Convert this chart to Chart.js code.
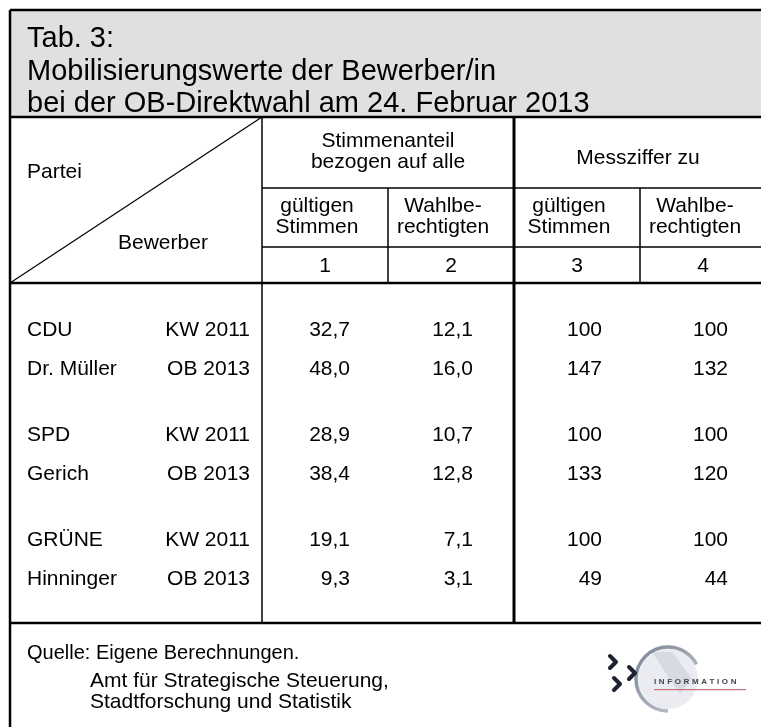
<!DOCTYPE html>
<html>
<head>
<meta charset="utf-8">
<script src="https://cdn.jsdelivr.net/npm/chart.js@4"></script>
<style>
    html, body { margin: 0; padding: 0; background: #fff; overflow: hidden; }
    #wrap { width: 766px; height: 727px; }
</style>
</head>
<body>
<div id="wrap"><canvas id="tab3" width="766" height="727"></canvas></div>
<script>
// Tab. 3 - Mobilisierungswerte der Bewerber/in
var titleLines = ['Tab. 3:', 'Mobilisierungswerte der Bewerber/in', 'bei der OB-Direktwahl am 24. Februar 2013'];
var parteien = ['CDU', 'Dr. Müller', 'SPD', 'Gerich', 'GRÜNE', 'Hinninger'];
var wahlen = ['KW 2011', 'OB 2013', 'KW 2011', 'OB 2013', 'KW 2011', 'OB 2013'];
var spaltenNr = ['1', '2', '3', '4'];
var anteilGueltig = [32.7, 48.0, 28.9, 38.4, 19.1, 9.3];
var anteilWahlber = [12.1, 16.0, 10.7, 12.8, 7.1, 3.1];
var messGueltig = [100, 147, 100, 133, 100, 49];
var messWahlber = [100, 132, 100, 120, 100, 44];
var quelle = ['Quelle: Eigene Berechnungen.', 'Amt für Strategische Steuerung,', 'Stadtforschung und Statistik'];

(function () {
    var FONT = "'Liberation Sans', Arial, sans-serif";
    var groupGap = 0.7; // extra space between party blocks, in row units

    function rowPos(i) {
        return Math.floor(i / 2) * (2 + groupGap) + (i % 2);
    }
    function komma(v, d) {
        return v.toFixed(d).replace('.', ',');
    }

    var spalten = [
        { values: anteilGueltig, dec: 1, shift: 25 },
        { values: anteilWahlber, dec: 1, shift: 22 },
        { values: messGueltig, dec: 0, shift: 25 },
        { values: messWahlber, dec: 0, shift: 25 }
    ];

    var datasets = spalten.map(function (s, c) {
        return {
            label: spaltenNr[c],
            data: s.values.map(function (v, i) { return { x: spaltenNr[c], y: rowPos(i) }; }),
            pointRadius: 0,
            pointHoverRadius: 0
        };
    });

    function line(ctx, x1, y1, x2, y2, w) {
        ctx.lineWidth = w;
        ctx.beginPath();
        ctx.moveTo(x1, y1);
        ctx.lineTo(x2, y2);
        ctx.stroke();
    }

    function drawLogo(ctx) {
        ctx.save();
        // helle Scheibe mit Pfeil
        ctx.fillStyle = 'rgba(222,224,232,0.6)';
        ctx.beginPath();
        ctx.arc(668, 679, 30, 0, Math.PI * 2);
        ctx.fill();
        ctx.fillStyle = 'rgba(200,204,214,0.55)';
        ctx.beginPath();
        ctx.moveTo(652, 652);
        ctx.lineTo(672, 652);
        ctx.lineTo(692, 679);
        ctx.lineTo(680, 694);
        ctx.closePath();
        ctx.fill();
        // Bogen
        var g = ctx.createLinearGradient(640, 650, 700, 712);
        g.addColorStop(0, '#7f889a');
        g.addColorStop(1, '#c9ccd4');
        ctx.strokeStyle = g;
        ctx.lineWidth = 3.5;
        ctx.beginPath();
        ctx.arc(668, 679, 32, Math.PI * 0.5, Math.PI * 1.85);
        ctx.stroke();
        // Winkel
        ctx.strokeStyle = '#1b2230';
        ctx.lineWidth = 4;
        ctx.lineCap = 'round';
        ctx.lineJoin = 'round';
        [[610, 656], [629, 667], [614, 678]].forEach(function (p) {
            ctx.beginPath();
            ctx.moveTo(p[0], p[1]);
            ctx.lineTo(p[0] + 6, p[1] + 6);
            ctx.lineTo(p[0], p[1] + 12);
            ctx.stroke();
        });
        ctx.fillStyle = '#3f4654';
        ctx.font = 'bold 8px ' + FONT;
        ctx.textAlign = 'left';
        ctx.textBaseline = 'middle';
        var t = 'INFORMATION', x = 654;
        for (var i = 0; i < t.length; i++) {
            ctx.fillText(t[i], x, 682);
            x += ctx.measureText(t[i]).width + 2.6;
        }
        ctx.fillStyle = '#c9707a';
        ctx.fillRect(654, 689, 92, 1.2);
        ctx.restore();
    }

    var tablePlugin = {
        id: 'tablePlugin',
        beforeDraw: function (chart) {
            var ctx = chart.ctx;
            ctx.save();
            ctx.fillStyle = '#fff';
            ctx.fillRect(0, 0, chart.width, chart.height);
            ctx.fillStyle = '#e0e0e0';
            ctx.fillRect(10, 10, chart.width - 10, 107);
            ctx.restore();
        },
        afterDatasetsDraw: function (chart) {
            var ctx = chart.ctx;
            var area = chart.chartArea;
            var xs = chart.scales.x, ys = chart.scales.y;
            var band = (area.right - area.left) / spaltenNr.length;
            var right = chart.width;
            ctx.save();
            ctx.strokeStyle = '#000';
            ctx.fillStyle = '#000';

            // Titel
            ctx.font = '29px ' + FONT;
            ctx.textAlign = 'left';
            ctx.textBaseline = 'alphabetic';
            [47, 80, 112].forEach(function (b, i) { ctx.fillText(titleLines[i], 27, b); });

            // Rahmen und Linien
            line(ctx, 10, 10, right, 10, 2.5);
            line(ctx, 10, 10, 10, chart.height, 2.5);
            line(ctx, 10, 117, right, 117, 2.5);
            line(ctx, area.left, 117, area.left, area.bottom, 1.5);
            line(ctx, area.left, 188, right, 188, 1.5);
            line(ctx, area.left, 247, right, 247, 1.5);
            line(ctx, 10, area.top, right, area.top, 2.5);
            line(ctx, 10, area.bottom, right, area.bottom, 2.5);
            for (var c = 1; c < spaltenNr.length; c++) {
                var bx = xs.getPixelForValue(c) - band / 2;
                if (c === 2) {
                    line(ctx, bx, 117, bx, area.bottom, 3);
                } else {
                    line(ctx, bx, 188, bx, area.top, 1.5);
                }
            }
            line(ctx, 10, area.top, area.left, 117, 1.2);

            // Kopf
            ctx.font = '21px ' + FONT;
            ctx.textBaseline = 'middle';
            ctx.textAlign = 'left';
            ctx.fillText('Partei', 27, 172);
            ctx.fillText('Bewerber', 118, 243);
            ctx.textAlign = 'center';
            var mid12 = (xs.getPixelForValue(0) + xs.getPixelForValue(1)) / 2;
            var mid34 = (xs.getPixelForValue(2) + xs.getPixelForValue(3)) / 2;
            ctx.fillText('Stimmenanteil', mid12, 141);
            ctx.fillText('bezogen auf alle', mid12, 162);
            ctx.fillText('Messziffer zu', mid34 - 2, 158);
            var sub = [['gültigen', 'Stimmen'], ['Wahlbe-', 'rechtigten'], ['gültigen', 'Stimmen'], ['Wahlbe-', 'rechtigten']];
            spaltenNr.forEach(function (nr, c) {
                var cx = xs.getPixelForValue(c);
                ctx.fillText(sub[c][0], cx - 8, 206);
                ctx.fillText(sub[c][1], cx - 8, 227);
                ctx.fillText(nr, cx, 266);
            });

            // Zeilen
            ctx.font = '21px ' + FONT;
            parteien.forEach(function (p, i) {
                var y = ys.getPixelForValue(rowPos(i));
                ctx.textAlign = 'left';
                ctx.fillText(p, 27, y);
                ctx.textAlign = 'right';
                ctx.fillText(wahlen[i], 250, y);
            });
            chart.data.datasets.forEach(function (ds, c) {
                var meta = chart.getDatasetMeta(c);
                meta.data.forEach(function (pt, i) {
                    ctx.textAlign = 'right';
                    ctx.fillText(komma(spalten[c].values[i], spalten[c].dec), pt.x + spalten[c].shift, pt.y);
                });
            });

            // Quelle
            ctx.font = '20px ' + FONT;
            ctx.textAlign = 'left';
            ctx.fillText(quelle[0], 27, 653);
            ctx.font = '21px ' + FONT;
            ctx.fillText(quelle[1], 90, 681);
            ctx.fillText(quelle[2], 90, 702);
            ctx.restore();

            drawLogo(ctx);
        }
    };

    var rowUnit = 39;
    var yMin = -(330 - 283) / rowUnit;

    new Chart(document.getElementById('tab3'), {
        type: 'scatter',
        data: { datasets: datasets },
        options: {
            responsive: false,
            animation: false,
            devicePixelRatio: 1,
            layout: { padding: { left: 262, right: 0, top: 283, bottom: 104 } },
            scales: {
                x: { type: 'category', labels: spaltenNr, offset: true, display: false },
                y: { type: 'linear', reverse: true, min: yMin, max: yMin + 340 / rowUnit, display: false }
            },
            plugins: {
                legend: { display: false },
                tooltip: { enabled: false }
            },
            events: []
        },
        plugins: [tablePlugin]
    });
})();
</script>
</body>
</html>
